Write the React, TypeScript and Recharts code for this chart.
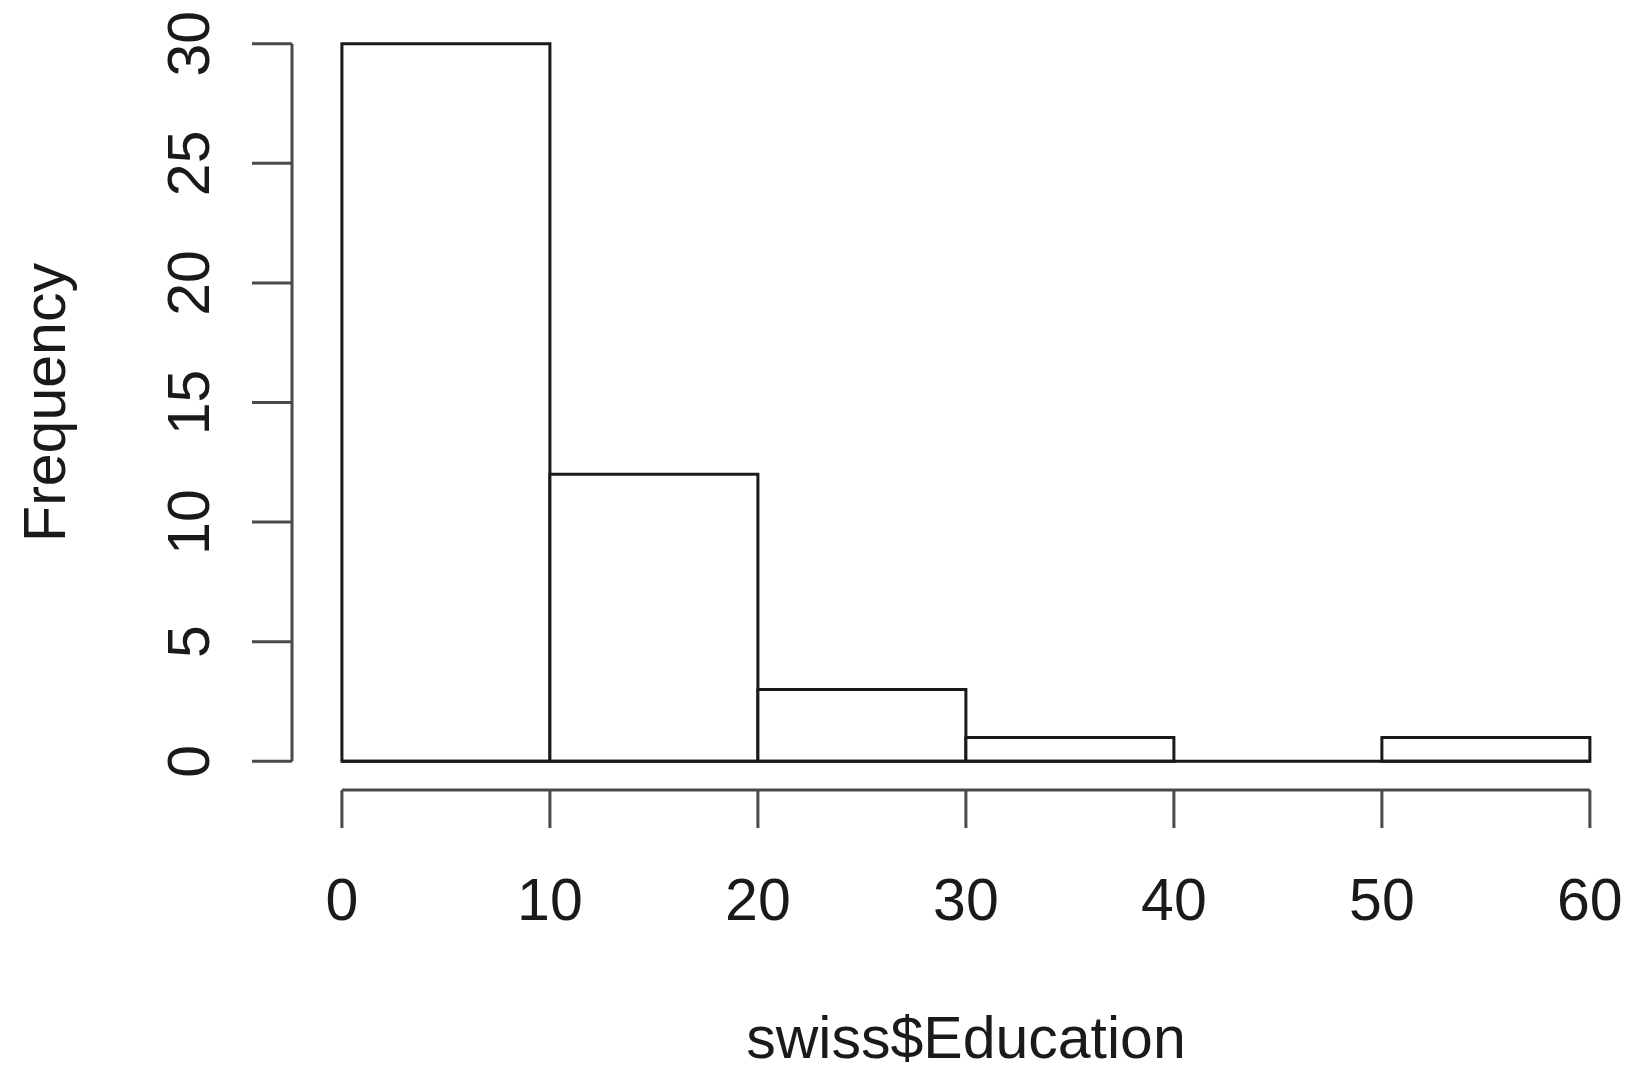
import React from 'react';
import {
  ComposedChart,
  Bar,
  XAxis,
  YAxis,
  ReferenceLine,
} from 'recharts';

// histogram bins of swiss$Education (break width 10)
const binMids = [5, 15, 25, 35, 45, 55];
const binCounts = [30, 12, 3, 1, 0, 1];
const xTicks = [0, 10, 20, 30, 40, 50, 60];
const yTicks = [0, 5, 10, 15, 20, 25, 30];

const data = binMids.map((mid, i) => ({ mid, count: binCounts[i] }));

const FONT = '"Liberation Sans", Arial, sans-serif';
const INK = '#1a1a1a';
const AXIS = '#4a4a4a';
const FS = 59;

function YTick({ x, y, payload }: any) {
  return (
    <text
      x={x}
      y={y}
      transform={`rotate(-90, ${x}, ${y})`}
      textAnchor="middle"
      fontFamily={FONT}
      fontSize={FS}
      fill={INK}
    >
      {payload.value}
    </text>
  );
}

function XTick({ x, y, payload }: any) {
  return (
    <text x={x} y={y} dy="0.72em" textAnchor="middle" fontFamily={FONT} fontSize={FS} fill={INK}>
      {payload.value}
    </text>
  );
}

export default function App() {
  return (
    <div style={{ position: 'absolute', left: 0, top: 0, width: 1630, height: 1073, background: '#fff' }}>
      <ComposedChart
        width={1630}
        height={1073}
        data={data}
        margin={{ top: 15, right: 11, bottom: 0, left: 0 }}
        barCategoryGap={0}
        barGap={0}
      >
        <XAxis
          dataKey="mid"
          type="number"
          domain={[-2.4, 61.4]}
          ticks={xTicks}
          interval={0}
          height={283}
          axisLine={false}
          tickLine={{ stroke: AXIS, strokeWidth: 3 }}
          tickSize={38}
          tickMargin={50}
          tick={<XTick />}
          allowDataOverflow
          label={{
            content: ({ viewBox }: any) => (
              <text
                x={966}
                y={viewBox.y + 268}
                textAnchor="middle"
                fontFamily={FONT}
                fontSize={FS}
                fill={INK}
              >
                swiss$Education
              </text>
            ),
          }}
        />
        <YAxis
          type="number"
          domain={[-1.2, 31.2]}
          ticks={yTicks}
          interval={0}
          width={292}
          axisLine={false}
          tickLine={{ stroke: AXIS, strokeWidth: 3 }}
          tickSize={40}
          tickMargin={43}
          tick={<YTick />}
          allowDataOverflow
          label={{
            content: ({ viewBox }: any) => {
              const cx = 65;
              const cy = viewBox.y + viewBox.height / 2;
              return (
                <text
                  x={cx}
                  y={cy}
                  transform={`rotate(-90, ${cx}, ${cy})`}
                  textAnchor="middle"
                  fontFamily={FONT}
                  fontSize={FS}
                  fill={INK}
                >
                  Frequency
                </text>
              );
            },
          }}
        />
        {/* R style detached axes: lines only span the tick range */}
        <ReferenceLine
          segment={[{ x: 0, y: -1.2 }, { x: 60, y: -1.2 }]}
          stroke={AXIS}
          strokeWidth={3}
          ifOverflow="visible"
        />
        <ReferenceLine
          segment={[{ x: -2.4, y: 0 }, { x: -2.4, y: 30 }]}
          stroke={AXIS}
          strokeWidth={3}
          ifOverflow="visible"
        />
        <Bar
          dataKey="count"
          fill="#ffffff"
          stroke={INK}
          strokeWidth={3}
          isAnimationActive={false}
        />
        {/* the empty 40-50 bin still shows its bottom edge */}
        <ReferenceLine
          segment={[{ x: 0, y: 0 }, { x: 60, y: 0 }]}
          stroke={INK}
          strokeWidth={3}
          ifOverflow="visible"
        />
      </ComposedChart>
    </div>
  );
}
